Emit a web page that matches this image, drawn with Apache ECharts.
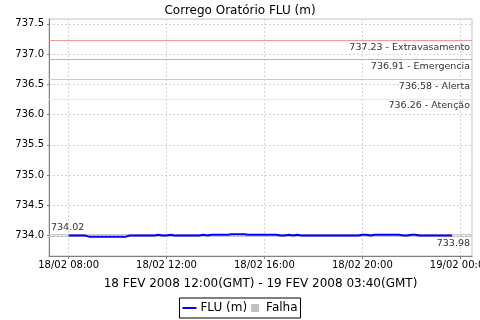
<!DOCTYPE html>
<html>
<head>
<meta charset="utf-8">
<script src="https://cdn.jsdelivr.net/npm/echarts@6/dist/echarts.min.js"></script>
<style>html,body{margin:0;padding:0;background:#fff}#c{width:480px;height:320px}</style>
</head>
<body>
<div id="c"></div>
<script>
const titleText = 'Corrego Oratório FLU (m)';
const xAxisName = '18 FEV 2008 12:00(GMT) - 19 FEV 2008 03:40(GMT)';
const seriesName = 'FLU (m)';
const failName = 'Falha';
const startHour = 8;        // 18/02 08:00
const stepMinutes = 10;
const fluValues = [
  734.00,734.00,734.00,734.00,734.00,
  733.98,733.98,733.98,733.98,733.98,733.98,733.98,733.98,733.98,733.98,
  734.00,734.00,734.00,734.00,734.00,734.00,734.00,
  734.01,734.00,734.00,734.01,
  734.00,734.00,734.00,734.00,734.00,734.00,734.00,
  734.01,734.00,
  734.01,734.01,734.01,734.01,734.01,
  734.02,734.02,734.02,734.02,
  734.01,734.01,734.01,734.01,734.01,734.01,734.01,734.01,
  734.00,734.00,734.01,734.00,734.01,
  734.00,734.00,734.00,734.00,734.00,734.00,734.00,734.00,734.00,734.00,734.00,734.00,734.00,734.00,734.00,
  734.01,734.01,734.00,
  734.01,734.01,734.01,734.01,734.01,734.01,734.01,
  734.00,734.00,734.01,734.01,
  734.00,734.00,734.00,734.00,734.00,734.00,734.00,734.00,734.00
];
const thresholdValues = [737.23, 736.91, 736.58, 736.26];
const thresholdNames = ['Extravasamento', 'Emergencia', 'Alerta', 'Atenção'];
const thresholdColors = ['#f09a9a', '#f08cf0', '#f8c090', '#fff07a'];
const maxValue = 734.02;
const minValue = 733.98;
const yTicks = [734.0, 734.5, 735.0, 735.5, 736.0, 736.5, 737.0, 737.5];
const xTickHours = [8, 12, 16, 20, 24];
const xTickLabels = ['18/02 08:00', '18/02 12:00', '18/02 16:00', '18/02 20:00', '19/02 00:00'];

const FONT = 'DejaVu Sans';
const data = fluValues.map((v, i) => [startHour + i * stepMinutes / 60, v]);

function refLineSeries(value, color, text, position) {
  return {
    name: 'ref-' + text, type: 'line', data: [], silent: true, z: 1,
    markLine: {
      silent: true, symbol: 'none', animation: false,
      lineStyle: { color: color, type: 'solid', width: 1 },
      label: { show: true, position: position, formatter: text,
               fontFamily: FONT, fontSize: 9.5, color: '#333', distance: [2, 2] },
      data: [{ yAxis: value }]
    }
  };
}

const refSeries = thresholdValues.map((v, i) =>
  refLineSeries(v, thresholdColors[i], v.toFixed(2) + ' - ' + thresholdNames[i], 'insideEndBottom'));
refSeries.push(refLineSeries(maxValue, '#c8c8c8', maxValue.toFixed(2), 'insideStartTop'));
refSeries.push(refLineSeries(minValue, '#c8c8c8', minValue.toFixed(2), 'insideEndBottom'));

const chart = echarts.init(document.getElementById('c'), null, { renderer: 'canvas' });
chart.setOption({
  animation: false,
  backgroundColor: '#fff',
  textStyle: { fontFamily: FONT },
  title: { text: titleText, left: 'center', top: 0,
           textStyle: { fontFamily: FONT, fontSize: 12, fontWeight: 'normal', color: '#000' } },
  grid: { left: 49, right: 8, top: 19, bottom: 64, show: true, borderColor: '#c0c0c0', borderWidth: 1,
          containLabel: false, outerBoundsMode: 'none' },
  xAxis: {
    type: 'value', min: 7.2, max: 24.48,
    name: xAxisName, nameLocation: 'middle', nameGap: 22,
    nameTextStyle: { fontFamily: FONT, fontSize: 12, color: '#000' },
    axisLine: { show: true, lineStyle: { color: '#808080' } },
    axisTick: { show: true, length: 3, lineStyle: { color: '#808080' }, customValues: xTickHours },
    axisLabel: { customValues: xTickHours, fontFamily: FONT, fontSize: 10, color: '#000', margin: 4,
                 hideOverlap: false,
                 formatter: v => xTickLabels[xTickHours.indexOf(Math.round(v))] },
    splitLine: { show: true, lineStyle: { color: '#d4d4d4', type: [2, 2] } }
  },
  yAxis: {
    type: 'value', min: 733.66, max: 737.58,
    axisLine: { show: true, lineStyle: { color: '#808080' } },
    axisTick: { show: true, length: 2, lineStyle: { color: '#808080' }, customValues: yTicks },
    axisLabel: { customValues: yTicks, fontFamily: FONT, fontSize: 10, color: '#000', margin: 5,
                 formatter: v => v.toFixed(1) },
    splitLine: { show: true, lineStyle: { color: '#d4d4d4', type: [2, 2] } }
  },
  legend: {
    bottom: 2, left: 'center', orient: 'horizontal',
    borderColor: '#000', borderWidth: 1, padding: [4, 3, 4, 3],
    itemWidth: 14, itemHeight: 8, itemGap: 4,
    textStyle: { fontFamily: FONT, fontSize: 12, color: '#000', padding: [0, 0, 0, -1] },
    data: [
      { name: seriesName, icon: 'path://M0,0 H14 V2 H0 Z' },
      { name: failName, icon: 'path://M0,0 H8 V8 H0 Z' }
    ]
  },
  series: [
    {
      name: seriesName, type: 'line', data: data, showSymbol: false,
      lineStyle: { color: '#0000ff', width: 2 }, itemStyle: { color: '#0000ff' },
      z: 5
    },
    {
      name: failName, type: 'line', data: [], itemStyle: { color: '#c0c0c0' }
    }
  ].concat(refSeries)
});
</script>
</body>
</html>
